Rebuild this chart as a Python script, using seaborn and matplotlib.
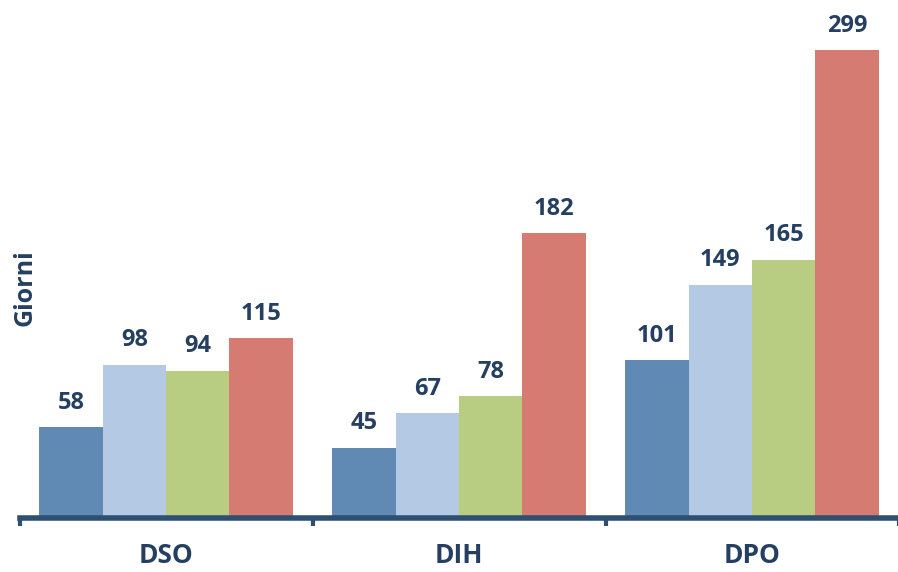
import numpy as np
import pandas as pd
import matplotlib
matplotlib.use("Agg")
import matplotlib.pyplot as plt
import seaborn as sns

# Dati del grafico
categorie = ["DSO", "DIH", "DPO"]
serie = ["Serie 1", "Serie 2", "Serie 3", "Serie 4"]
valori = {
    "Serie 1": [58, 45, 101],
    "Serie 2": [98, 67, 149],
    "Serie 3": [94, 78, 165],
    "Serie 4": [115, 182, 299],
}
colori = ["#6089b4", "#b4cae4", "#b9cd82", "#d57b72"]

df = pd.DataFrame(
    [(c, s, valori[s][i]) for s in serie for i, c in enumerate(categorie)],
    columns=["categoria", "serie", "giorni"],
)

sns.set_style("white")
plt.rcParams["font.family"] = ["Open Sans", "DejaVu Sans"]

navy = "#243f61"
spine_col = "#2f4f72"

fig = plt.figure(figsize=(8.98, 5.72), dpi=100)
ax = fig.add_axes([19.5 / 898, 54 / 572, 879 / 898, 513 / 572])

sns.barplot(
    data=df, x="categoria", y="giorni", hue="serie",
    order=categorie, hue_order=serie, palette=colori,
    width=0.864, gap=0, linewidth=0, saturation=1, ax=ax,
)
ax.legend_.remove()

for cont in ax.containers:
    ax.bar_label(cont, padding=9, fontsize=17, fontweight="bold", color=navy)

ax.set_xlim(-0.5, 2.5)
ax.set_ylim(0, 328)
ax.set_yticks([])
ax.set_xlabel("")
ax.set_ylabel("")
fig.text(25 / 898, 1 - 288 / 572, "Giorni", rotation=90, ha="center", va="center",
         fontsize=18, fontweight="bold", color=navy)

for s in ["top", "right", "left"]:
    ax.spines[s].set_visible(False)
ax.spines["bottom"].set_linewidth(4)
ax.spines["bottom"].set_color(spine_col)

ax.set_xticks([-0.5, 0.5, 1.5, 2.5], minor=True)
ax.tick_params(axis="x", which="minor", bottom=True, length=6, width=3,
               color=spine_col, direction="out")
ax.tick_params(axis="x", which="major", length=0, pad=17)
for lab in ax.get_xticklabels():
    lab.set_fontsize(19)
    lab.set_fontweight("bold")
    lab.set_color(navy)

fig.savefig("out.png", dpi=100)
